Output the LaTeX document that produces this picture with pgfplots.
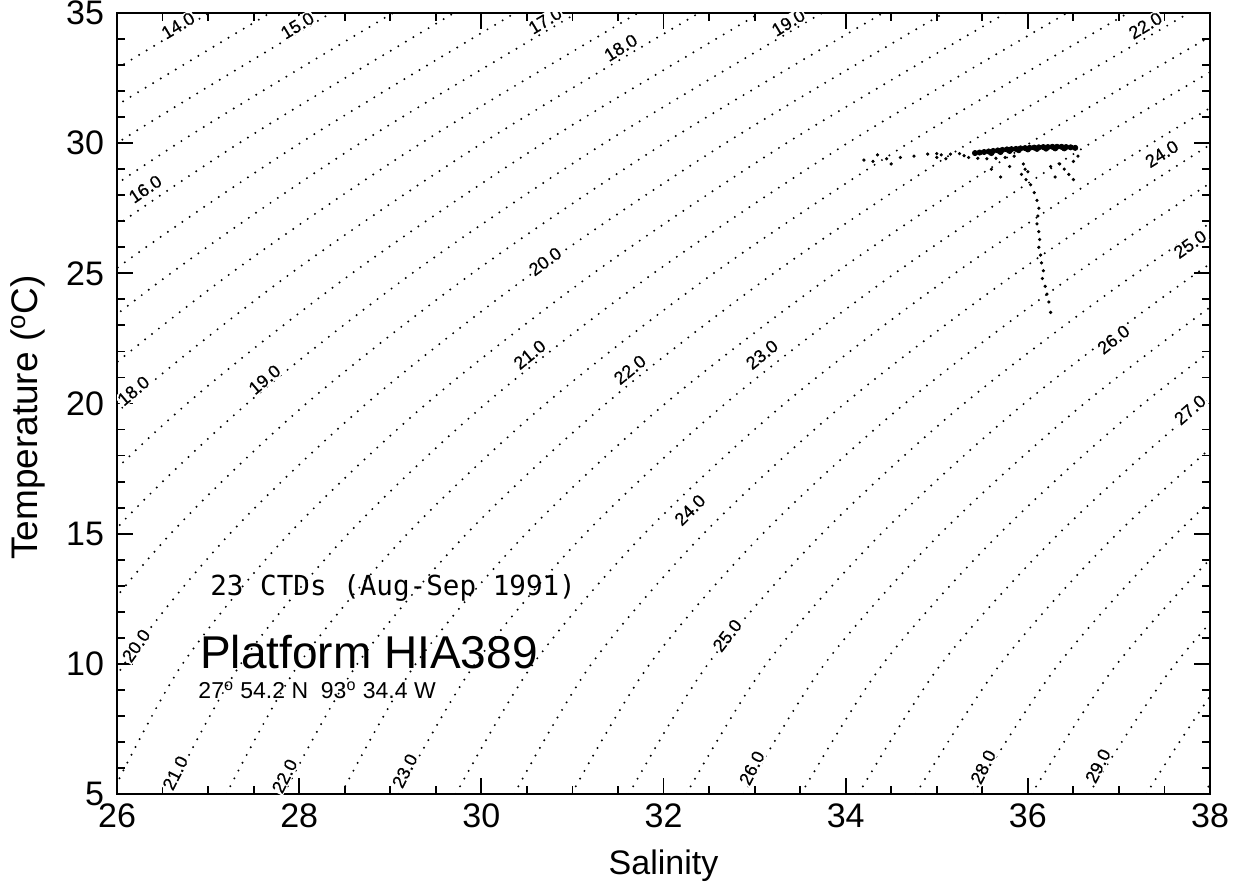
\documentclass[border=0pt]{standalone}
\usepackage{pgfplots}
\pgfplotsset{compat=1.18}
\usepackage{pgfplotstable}
\usepackage{fontspec}
\setmainfont{Liberation Sans}
\newfontfamily\monofont{DejaVu Sans Mono}
\newfontfamily\labfont[FakeBold=0.6]{Liberation Sans}

% isopycnal (sigma-t) lines: salinity at T = 5,10,...,35 for sigma = 14.0 ... 30.0 (step 0.5)
\pgfplotstableread{
T s140 s145 s150 s155 s160 s165 s170 s175 s180 s185 s190 s195 s200 s205 s210 s215 s220 s225 s230 s235 s240 s245 s250 s255 s260 s265 s270 s275 s280 s285 s290 s295 s300
5 17.73 18.37 19.00 19.63 20.26 20.89 21.52 22.15 22.78 23.41 24.05 24.68 25.31 25.94 26.57 27.20 27.83 28.46 29.09 29.72 30.36 30.99 31.62 32.25 32.88 33.51 34.14 34.77 35.40 36.04 36.67 37.30 37.93
10 18.39 19.03 19.67 20.31 20.95 21.59 22.24 22.88 23.52 24.16 24.80 25.44 26.08 26.72 27.36 28.00 28.64 29.28 29.93 30.57 31.21 31.85 32.49 33.13 33.77 34.41 35.05 35.70 36.34 36.98 37.62 38.26 38.90
15 19.44 20.09 20.74 21.39 22.04 22.69 23.34 23.99 24.64 25.29 25.94 26.59 27.24 27.89 28.54 29.19 29.84 30.49 31.14 31.79 32.44 33.09 33.74 34.39 35.04 35.69 36.34 36.98 37.63 38.28 38.93 39.58 40.23
20 20.86 21.52 22.18 22.83 23.49 24.14 24.80 25.46 26.11 26.77 27.43 28.08 28.74 29.40 30.05 30.71 31.37 32.02 32.68 33.33 33.99 34.65 35.30 35.96 36.62 37.27 37.93 38.59 39.24 39.90 40.55 41.21 41.87
25 22.61 23.27 23.94 24.60 25.26 25.92 26.59 27.25 27.91 28.58 29.24 29.90 30.56 31.23 31.89 32.55 33.21 33.88 34.54 35.20 35.87 36.53 37.19 37.85 38.52 39.18 39.84 40.51 41.17 41.83 42.50 43.16 43.82
30 24.67 25.33 26.00 26.67 27.34 28.01 28.67 29.34 30.01 30.68 31.35 32.01 32.68 33.35 34.02 34.69 35.35 36.02 36.69 37.36 38.03 38.69 39.36 40.03 40.70 41.37 42.04 42.71 43.37 44.04 44.71 45.38 46.05
35 27.01 27.68 28.35 29.03 29.70 30.37 31.05 31.72 32.39 33.06 33.74 34.41 35.08 35.76 36.43 37.10 37.77 38.45 39.12 39.79 40.46 41.13 41.80 42.48 43.15 43.82 44.50 45.17 45.84 46.52 47.19 47.86 48.54
}\isodata

% CTD observations: dense surface band
\pgfplotstableread{
S T
35.42 29.62
35.47 29.64
35.52 29.66
35.57 29.68
35.62 29.70
35.67 29.72
35.72 29.74
35.77 29.76
35.82 29.77
35.87 29.78
35.92 29.80
35.97 29.81
36.02 29.82
36.07 29.83
36.12 29.84
36.17 29.85
36.22 29.85
36.27 29.86
36.32 29.86
36.37 29.86
36.42 29.85
36.47 29.84
36.52 29.82
35.60 29.62
35.70 29.66
35.80 29.70
35.90 29.73
36.00 29.76
36.10 29.78
36.20 29.79
36.30 29.80
36.40 29.80
}\band

% CTD observations: scattered points
\pgfplotstableread{
S T
34.20 29.35
34.30 29.30
34.45 29.40
34.60 29.45
34.75 29.50
34.90 29.58
35.00 29.60
35.05 29.55
35.15 29.58
35.25 29.60
35.30 29.52
35.35 29.45
35.45 29.42
35.55 29.40
35.65 29.42
35.75 29.45
35.85 29.50
35.00 29.45
35.10 29.40
34.35 29.55
34.50 29.20
35.95 29.20
35.97 29.00
35.93 28.80
35.98 28.60
36.03 28.40
36.07 28.10
36.10 27.80
36.12 27.50
36.11 27.20
36.10 26.90
36.12 26.60
36.13 26.30
36.12 26.00
36.14 25.70
36.15 25.40
36.17 25.10
36.16 24.80
36.19 24.50
36.21 24.20
36.23 23.90
36.25 23.50
36.35 29.20
36.40 29.00
36.45 28.80
36.50 28.60
36.55 29.50
36.30 28.70
36.25 29.10
36.50 29.30
35.80 29.10
35.60 29.00
36.00 28.90
35.70 28.70
}\scatterpts

\pgfplotsset{
  iso/.style={no marks, smooth, black, line width=1.1pt, line cap=round, dash pattern=on 0pt off 4.4pt},
}
\tikzset{
  lab/.style={font=\labfont\fontsize{9}{9}\selectfont, fill=white, inner sep=0.5pt},
}

\begin{document}
\begin{tikzpicture}
\useasboundingbox (-58.5pt,-45pt) rectangle (565pt,397pt);
\begin{axis}[
  at={(0,0)}, anchor=south west,
  scale only axis, width=546.5pt, height=390.5pt,
  xmin=26, xmax=38, ymin=5, ymax=35,
  xtick={26,28,...,38}, ytick={5,10,...,35},
  minor x tick num=3, minor y tick num=4,
  tick align=inside,
  major tick length=8pt, minor tick length=4pt,
  every tick/.style={black, line width=0.9pt},
  axis line style={line width=1.2pt},
  tick label style={font=\fontsize{17}{17}\selectfont},
  yticklabel style={xshift=-3pt},
  xticklabel style={yshift=-1.5pt},
  /pgf/number format/assume math mode=true,
  xlabel={Salinity}, ylabel={Temperature (\textsuperscript{o}C)},
  xlabel style={font=\fontsize{17}{17}\selectfont, yshift=-4pt},
  ylabel style={font=\fontsize{18.5}{18.5}\selectfont, yshift=3.5pt, xshift=-7pt},
]
\pgfplotsinvokeforeach{140,145,150,155,160,165,170,175,180,185,190,195,200,205,210,215,220,225,230,235,240,245,250,255,260,265,270,275,280,285,290,295,300}{
  \addplot[iso] table[x=s#1, y=T] {\isodata};
}

% contour labels
\node[lab, rotate=31] at (axis cs:26.67,34.52) {14.0};
\node[lab, rotate=31] at (axis cs:27.98,34.52) {15.0};
\node[lab, rotate=31] at (axis cs:30.70,34.71) {17.0};
\node[lab, rotate=32] at (axis cs:31.53,33.67) {18.0};
\node[lab, rotate=31] at (axis cs:33.37,34.63) {19.0};
\node[lab, rotate=31] at (axis cs:37.29,34.52) {22.0};
\node[lab, rotate=34] at (axis cs:26.31,28.24) {16.0};
\node[lab, rotate=40] at (axis cs:26.18,20.49) {18.0};
\node[lab, rotate=55] at (axis cs:26.21,10.70) {20.0};
\node[lab, rotate=63] at (axis cs:26.64,5.81) {21.0};
\node[lab, rotate=63] at (axis cs:27.84,5.69) {22.0};
\node[lab, rotate=63] at (axis cs:29.16,5.89) {23.0};
\node[lab, rotate=63] at (axis cs:32.97,6.00) {26.0};
\node[lab, rotate=63] at (axis cs:35.51,6.04) {28.0};
\node[lab, rotate=63] at (axis cs:36.77,6.08) {29.0};
\node[lab, rotate=32] at (axis cs:37.47,29.59) {24.0};
\node[lab, rotate=35] at (axis cs:37.78,26.12) {25.0};
\node[lab, rotate=38] at (axis cs:36.94,22.46) {26.0};
\node[lab, rotate=41] at (axis cs:37.78,19.76) {27.0};
\node[lab, rotate=36] at (axis cs:30.70,25.46) {20.0};
\node[lab, rotate=40] at (axis cs:27.62,20.92) {19.0};
\node[lab, rotate=39] at (axis cs:30.53,21.88) {21.0};
\node[lab, rotate=39] at (axis cs:31.63,21.30) {22.0};
\node[lab, rotate=39] at (axis cs:33.08,21.88) {23.0};
\node[lab, rotate=45] at (axis cs:32.29,15.91) {24.0};
\node[lab, rotate=52] at (axis cs:32.70,11.09) {25.0};

% observations
\addplot[only marks, mark=*, mark size=1.3pt, black] table[x=S, y=T] {\band};
\addplot[only marks, mark=*, mark size=0.6pt, black] table[x=S, y=T] {\scatterpts};

% annotations
\node[anchor=west, inner sep=0pt, font=\monofont\fontsize{13.8}{14}\selectfont] at (axis cs:27.02,12.90) {23 CTDs (Aug-Sep 1991)};
\node[anchor=base west, inner sep=0pt, font=\fontsize{23}{23}\selectfont] at (axis cs:26.91,9.82) {Platform HIA389};
\node[anchor=base west, inner sep=0pt, font=\fontsize{11.5}{12}\selectfont] at (axis cs:26.89,8.66) {27\textsuperscript{o} 54.2 N\ \ 93\textsuperscript{o} 34.4 W};
\end{axis}
\end{tikzpicture}
\end{document}
